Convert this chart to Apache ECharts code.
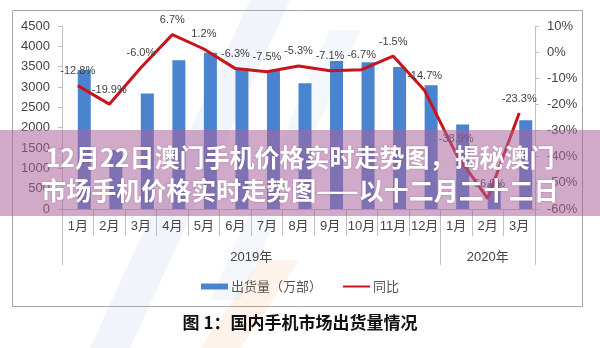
<!DOCTYPE html>
<html><head><meta charset="utf-8">
<script src="https://cdn.jsdelivr.net/npm/echarts@6/dist/echarts.min.js"></script>
<style>html,body{margin:0;padding:0;background:#fff}#c{width:600px;height:348px}</style>
</head><body><div id="c"></div>
<script>
const months = ['1月','2月','3月','4月','5月','6月','7月','8月','9月','10月','11月','12月','1月','2月','3月'];
const years = ['2019年','2020年'];
const yearSpans = [12, 3];
const shipments = [3420,1450,2840,3660,3840,3460,3410,3090,3640,3610,3490,3040,2080,640,2180];
const yoy = [-12.8,-19.9,-6.0,6.7,1.2,-6.3,-7.5,-5.3,-7.1,-6.7,-1.5,-14.7,-38.9,-56.0,-23.3];
const barName = '出货量（万部）';
const lineName = '同比';
const chartTitle = '图 1：国内手机市场出货量情况';
const bannerLines = ['12月22日澳门手机价格实时走势图，揭秘澳门', '市场手机价格实时走势图——以十二月二十二日'];

const FONT = '"Liberation Sans","Noto Sans CJK SC",sans-serif';
const CJK = '"Noto Sans CJK SC",sans-serif';
const chart = echarts.init(document.getElementById('c'), null, {renderer:'canvas'});
const option = {
  animation: false,
  backgroundColor: '#fff',
  title: {text: chartTitle, left: 'center', top: 309,
    textStyle: {fontSize: 17, fontWeight: 'bold', color: '#111', fontFamily: CJK}},
  legend: {
    bottom: 50, left: 'center', itemWidth: 27, itemHeight: 6, itemGap: 20,
    data: [{name: barName, icon: 'rect'},
           {name: lineName, itemStyle: {color: 'transparent', borderWidth: 0, opacity: 0}}],
    textStyle: {fontSize: 13, color: '#555', fontFamily: CJK, padding: [0,0,0,-2]}
  },
  grid: {left: 62, right: 65, top: 26, bottom: 139},
  xAxis: [{
    type: 'category', data: months, boundaryGap: true,
    axisLine: {lineStyle: {color: '#bfbfbf'}},
    axisTick: {show: true, interval: 0, length: 27, lineStyle: {color: '#bfbfbf'}},
    axisLabel: {interval: 0, margin: 11, fontSize: 13, color: '#444', fontFamily: FONT}
  }],
  yAxis: [{
    type: 'value', min: 0, max: 4500, interval: 500, position: 'left',
    axisLine: {show: true, lineStyle: {color: '#bfbfbf'}},
    axisTick: {show: true, length: 4, lineStyle: {color: '#bfbfbf'}},
    splitLine: {show: false},
    axisLabel: {margin: 12, fontSize: 13, color: '#444', fontFamily: FONT, formatter: v => String(v)}
  }, {
    type: 'value', min: -60, max: 10, interval: 10, position: 'right',
    axisLine: {show: true, lineStyle: {color: '#bfbfbf'}},
    axisTick: {show: true, length: 4, lineStyle: {color: '#bfbfbf'}},
    splitLine: {show: false},
    axisLabel: {margin: 12, fontSize: 13, color: '#444', fontFamily: FONT, formatter: '{value}%'}
  }],
  series: [{
    name: '_gap', type: 'bar', data: months.map(() => '-'), barWidth: 13, barGap: '0%',
    itemStyle: {color: 'transparent'}, silent: true
  }, {
    name: barName, type: 'bar', data: shipments, barWidth: 13, barGap: '0%',
    itemStyle: {color: '#4a84cf'}
  }, {
    name: lineName, type: 'line', yAxisIndex: 1, data: yoy,
    symbol: 'circle', symbolSize: 0.1, showSymbol: true,
    lineStyle: {color: '#c8141c', width: 3}, itemStyle: {color: '#c8141c'},
    label: {show: true, position: 'top', distance: 9, fontSize: 11, color: '#404040',
      fontFamily: FONT, formatter: p => p.value.toFixed(1) + '%'},
    z: 5
  }]
};
chart.setOption(option);

// Multi-level category separators and year labels, positioned through the axis scale
const c0 = chart.convertToPixel({xAxisIndex: 0}, 0);
const c1 = chart.convertToPixel({xAxisIndex: 0}, 1);
const step = c1 - c0;
const yBase = chart.convertToPixel({yAxisIndex: 0}, 0);
const g = [];
let start = 0;
const edges = [0];
yearSpans.forEach(n => { start += n; edges.push(start); });
edges.forEach(e => {
  const x = Math.round(c0 - step / 2 + e * step) + 0.5;
  g.push({type: 'line', shape: {x1: x, y1: yBase, x2: x, y2: yBase + 56},
    style: {stroke: '#bfbfbf', lineWidth: 1}, z: 3});
});
for (let i = 0; i < years.length; i++) {
  const xa = c0 - step / 2 + edges[i] * step, xb = c0 - step / 2 + edges[i + 1] * step;
  g.push({type: 'text', x: (xa + xb) / 2, y: yBase + 48,
    style: {text: years[i], fill: '#444', font: '13px ' + FONT, align: 'center', verticalAlign: 'middle'}, z: 3});
}
// outer chart frame
g.push({type: 'rect', shape: {x: 12.5, y: 10.5, width: 570, height: 296},
  style: {fill: null, stroke: '#a6a6a6', lineWidth: 1}, z: 1});
// faint watermark strokes
const wm = [
  {pts: [[250,0],[290,0],[130,348],[90,348]], c: 'rgba(120,160,220,0.10)'},
  {pts: [[330,30],[360,30],[240,300],[210,300]], c: 'rgba(120,160,220,0.08)'},
  {pts: [[200,348],[240,348],[300,260],[260,260]], c: 'rgba(245,160,90,0.12)'}
];
wm.forEach(w => g.push({type: 'polygon', shape: {points: w.pts}, style: {fill: w.c}, z: 0, silent: true}));
// banner overlay
g.push({type: 'rect', shape: {x: 0, y: 130, width: 600, height: 86},
  style: {fill: 'rgba(172,100,158,0.55)'}, z: 100});
bannerLines.forEach((t, i) => {
  g.push({type: 'text', x: 300, y: 157 + i * 33,
    style: {text: t, fill: '#fff', font: 'bold 25px ' + CJK, align: 'center', verticalAlign: 'middle',
      textShadowColor: 'rgba(80,40,70,0.35)', textShadowBlur: 2}, z: 101});
});
chart.setOption({graphic: {elements: g}});
</script></body></html>
